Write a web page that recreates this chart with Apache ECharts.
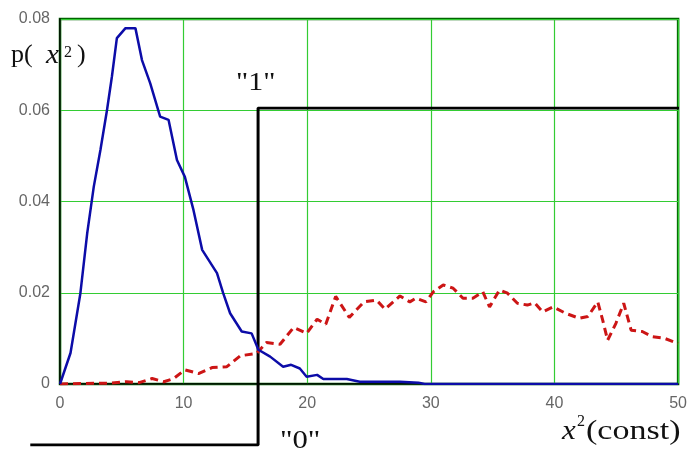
<!DOCTYPE html>
<html>
<head>
<meta charset="utf-8">
<script src="https://cdn.jsdelivr.net/npm/echarts@6/dist/echarts.min.js"></script>
<style>
  html, body { margin: 0; padding: 0; background: #fff; }
  #chart { width: 690px; height: 452px; }
</style>
</head>
<body>
<div id="chart"></div>
<script>
// Density of the statistic, p(x^2) versus x^2
const blueCurve = [
  [0, 0], [0.85, 0.0068], [1.65, 0.0199], [2.2, 0.033], [2.73, 0.0432], [3.27, 0.0513],
  [3.8, 0.060], [4.2, 0.0674], [4.6, 0.0758], [5.3, 0.078], [6.1, 0.078], [6.63, 0.071],
  [7.3, 0.0659], [8.1, 0.0586], [8.78, 0.0579], [9.46, 0.0491], [10.1, 0.0454], [10.8, 0.0381],
  [11.5, 0.0294], [12.7, 0.0243], [13.2, 0.0199], [13.76, 0.0155], [14.7, 0.0115], [15.5, 0.0111],
  [16.05, 0.0075], [17, 0.006], [18.05, 0.0038], [18.7, 0.0042], [19.4, 0.0034], [19.95, 0.0016],
  [20.8, 0.002], [21.3, 0.0011], [23.2, 0.0011], [24.25, 0.0005], [27.5, 0.0005], [29, 0.0003],
  [29.5, 0], [50, 0]
];

// Alternative-hypothesis density (dashed)
const redCurve = [
  [0, 0], [4, 0.0002], [5.4, 0.0005], [6.4, 0.0003], [7.45, 0.0012], [8.4, 0.0005], [9.2, 0.0012],
  [10.1, 0.0031], [11.2, 0.0023], [12.3, 0.0036], [13.5, 0.0038], [14.6, 0.0062], [15.9, 0.0067],
  [16.7, 0.0091], [17.8, 0.0087], [18.9, 0.0124], [19.95, 0.0111], [20.8, 0.0142], [21.5, 0.0131],
  [22.3, 0.0192], [23.4, 0.0146], [24.6, 0.018], [25.6, 0.0184], [26.3, 0.0164], [27.5, 0.0193],
  [28.3, 0.018], [28.8, 0.0188], [29.6, 0.018], [30.2, 0.0202], [31.0, 0.0217], [31.8, 0.021],
  [32.6, 0.0188], [33.4, 0.0188], [34.2, 0.0202], [34.75, 0.0169], [35.55, 0.0206], [36.2, 0.0199],
  [37.0, 0.0177], [37.8, 0.0173], [38.4, 0.0178], [39.05, 0.0158], [39.9, 0.0169], [40.9, 0.0155],
  [42.0, 0.0144], [42.7, 0.0148], [43.5, 0.018], [43.9, 0.014], [44.3, 0.0096], [44.97, 0.0133],
  [45.6, 0.0177], [46.2, 0.0118], [47.1, 0.0115], [47.9, 0.0104], [48.9, 0.01], [50, 0.0089]
];

// Decision step: "0" below the constant, "1" above it
const stepConst = 16;
const stepStartX = -2.4;
const stepLevels = [0, 1];

const xTicks = { min: 0, max: 50, interval: 10 };
const yTicks = { min: 0, max: 0.08, interval: 0.02 };

// layout of the main plot area
const plot = { left: 60, right: 11, top: 19, bottom: 68 };
const plotWidth = 690 - plot.left - plot.right;
const pxPerX = plotWidth / (xTicks.max - xTicks.min);

const chart = echarts.init(document.getElementById('chart'), null, { renderer: 'canvas' });

const tickFont = { color: '#666', fontSize: 16, fontFamily: 'Liberation Sans, Arial, sans-serif' };
const serif = 'Liberation Serif, Times New Roman, serif';

// serif caption text, slightly widened like the rest of the lettering
function caption(text, x, y, size, opts) {
  opts = opts || {};
  return {
    type: 'text', x: x, y: y, scaleX: opts.scaleX || 1.15, z: 10,
    style: {
      text: text,
      font: (opts.italic ? 'italic ' : '') + size + 'px ' + serif,
      fill: '#111',
      textVerticalAlign: 'top'
    }
  };
}

chart.setOption({
  animation: false,
  backgroundColor: '#fff',
  grid: [
    {
      left: plot.left, right: plot.right, top: plot.top, bottom: plot.bottom,
      show: true, borderColor: '#006400', borderWidth: 2.5, backgroundColor: 'transparent'
    },
    {
      left: plot.left + stepStartX * pxPerX, right: plot.right, top: 108, bottom: 7,
      show: false
    }
  ],
  xAxis: [
    {
      gridIndex: 0, type: 'value', min: xTicks.min, max: xTicks.max, interval: xTicks.interval,
      axisLine: { show: true, onZero: false, lineStyle: { color: '#000', width: 1.5 } },
      axisTick: { show: false },
      splitLine: { show: true, lineStyle: { color: '#33cc33', width: 1.2 } },
      axisLabel: Object.assign({ margin: 12 }, tickFont)
    },
    {
      gridIndex: 1, type: 'value', min: stepStartX, max: xTicks.max, show: false
    }
  ],
  yAxis: [
    {
      gridIndex: 0, type: 'value', min: yTicks.min, max: yTicks.max, interval: yTicks.interval,
      axisLine: { show: true, onZero: false, lineStyle: { color: '#000', width: 1.5 } },
      axisTick: { show: false },
      splitLine: { show: true, lineStyle: { color: '#33cc33', width: 1.2 } },
      axisLabel: Object.assign({ margin: 10 }, tickFont)
    },
    {
      gridIndex: 1, type: 'value', min: stepLevels[0], max: stepLevels[1], show: false
    }
  ],
  series: [
    {
      type: 'line', xAxisIndex: 1, yAxisIndex: 1, showSymbol: false, z: 3,
      data: [[stepStartX, stepLevels[0]], [stepConst, stepLevels[0]], [stepConst, stepLevels[1]], [xTicks.max, stepLevels[1]]],
      lineStyle: { color: '#000', width: 3 }
    },
    {
      type: 'line', xAxisIndex: 0, yAxisIndex: 0, showSymbol: false, z: 4,
      data: redCurve,
      lineStyle: { color: '#cc1515', width: 3, type: [8, 5] }
    },
    {
      type: 'line', xAxisIndex: 0, yAxisIndex: 0, showSymbol: false, z: 5,
      data: blueCurve,
      lineStyle: { color: '#0c0ca8', width: 2.5 }
    }
  ],
  graphic: [
    caption('p(', 11, 42, 26, { scaleX: 1.0 }),
    caption('x', 46, 42, 28, { italic: true, scaleX: 1.05 }),
    caption('2', 64, 45, 16, { scaleX: 1.0 }),
    caption(')', 77, 42, 26, { scaleX: 1.0 }),

    caption('x', 562, 418, 27, { italic: true }),
    caption('2', 577, 414, 16, { scaleX: 1.0 }),
    caption('(const)', 586, 418, 27, { scaleX: 1.26 }),

    caption('"1"', 236, 70, 26, { scaleX: 1.15 }),
    caption('"0"', 280, 428, 26, { scaleX: 1.18 })
  ]
});
</script>
</body>
</html>
